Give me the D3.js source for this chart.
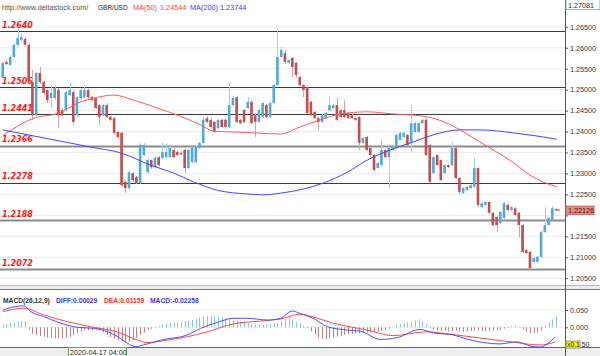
<!DOCTYPE html>
<html><head><meta charset="utf-8">
<script src="https://cdn.jsdelivr.net/npm/d3@7"></script>
<style>body{margin:0;background:#fff}svg{display:block}text{font-family:"Liberation Sans",Arial,sans-serif}</style>
</head><body>
<svg id="c" width="600" height="356"></svg>
<script>
// ---------- DATA ----------
const opens = [1.2528,1.2566,1.2559,1.2578,1.2607,1.2619,1.2621,1.2607,1.2518,1.2439,
1.2540,1.2518,1.2499,1.2480,1.2480,1.2499,1.2451,1.2451,1.2487,1.2494,
1.2439,1.2480,1.2482,1.2499,1.2482,1.2480,1.2463,1.2439,1.2463,1.2435,
1.2432,1.2399,1.2397,1.2280,1.2265,1.2301,1.2291,1.2277,1.2344,1.2303,
1.2332,1.2315,1.2339,1.2337,1.2339,1.2339,1.2356,1.2351,1.2349,1.2356,
1.2313,1.2327,1.2327,1.2361,1.2373,1.2432,1.2428,1.2423,1.2408,1.2428,
1.2428,1.2411,1.2463,1.2482,1.2428,1.2451,1.2456,1.2471,1.2439,1.2423,
1.2435,1.2463,1.2435,1.2468,1.2511,1.2578,1.2587,1.2564,1.2576,1.2564,
1.2530,1.2511,1.2506,1.2471,1.2447,1.2432,1.2423,1.2432,1.2451,1.2456,
1.2463,1.2451,1.2451,1.2444,1.2439,1.2432,1.2435,1.2373,1.2387,1.2361,
1.2344,1.2313,1.2320,1.2356,1.2339,1.2356,1.2361,1.2380,1.2387,1.2392,
1.2373,1.2399,1.2399,1.2420,1.2428,1.2368,1.2301,1.2344,1.2332,1.2301,
1.2320,1.2320,1.2361,1.2289,1.2253,1.2260,1.2265,1.2268,1.2313,1.2220,
1.2225,1.2232,1.2206,1.2196,1.2182,1.2194,1.2225,1.2213,1.2217,1.2206,
1.2177,1.2117,1.2113,1.2089,1.2089,1.2101,1.2160,1.2177,1.2189,1.2215];
const highs = [1.2566,1.2571,1.2583,1.2611,1.2647,1.2635,1.2626,1.2611,1.2547,1.2542,
1.2554,1.2521,1.2502,1.2511,1.2509,1.2504,1.2456,1.2497,1.2518,1.2499,
1.2485,1.2504,1.2509,1.2502,1.2485,1.2482,1.2466,1.2466,1.2468,1.2437,
1.2435,1.2401,1.2399,1.2284,1.2308,1.2303,1.2294,1.2373,1.2373,1.2337,
1.2334,1.2342,1.2342,1.2373,1.2373,1.2366,1.2361,1.2354,1.2354,1.2358,
1.2358,1.2363,1.2366,1.2375,1.2437,1.2437,1.2432,1.2425,1.2430,1.2430,
1.2432,1.2516,1.2485,1.2485,1.2430,1.2454,1.2482,1.2473,1.2444,1.2454,
1.2471,1.2466,1.2471,1.2513,1.2640,1.2602,1.2595,1.2573,1.2578,1.2566,
1.2533,1.2513,1.2509,1.2473,1.2449,1.2435,1.2442,1.2447,1.2482,1.2466,
1.2482,1.2454,1.2475,1.2447,1.2442,1.2435,1.2437,1.2387,1.2389,1.2363,
1.2346,1.2327,1.2380,1.2358,1.2363,1.2366,1.2394,1.2399,1.2399,1.2394,
1.2463,1.2423,1.2423,1.2430,1.2432,1.2370,1.2342,1.2346,1.2334,1.2322,
1.2322,1.2375,1.2363,1.2291,1.2268,1.2270,1.2275,1.2337,1.2315,1.2232,
1.2234,1.2234,1.2208,1.2199,1.2210,1.2232,1.2227,1.2222,1.2220,1.2208,
1.2180,1.2120,1.2115,1.2101,1.2103,1.2163,1.2220,1.2196,1.2222,1.2217];
const lows = [1.2523,1.2559,1.2556,1.2576,1.2602,1.2614,1.2602,1.2518,1.2428,1.2435,
1.2513,1.2487,1.2468,1.2456,1.2475,1.2408,1.2435,1.2447,1.2485,1.2416,
1.2435,1.2475,1.2480,1.2478,1.2473,1.2454,1.2416,1.2435,1.2432,1.2425,
1.2392,1.2382,1.2268,1.2253,1.2260,1.2280,1.2275,1.2275,1.2342,1.2299,
1.2311,1.2311,1.2318,1.2334,1.2337,1.2337,1.2337,1.2342,1.2344,1.2301,
1.2311,1.2325,1.2325,1.2358,1.2370,1.2420,1.2408,1.2397,1.2404,1.2408,
1.2406,1.2408,1.2461,1.2420,1.2418,1.2420,1.2454,1.2418,1.2387,1.2420,
1.2432,1.2432,1.2432,1.2466,1.2509,1.2576,1.2561,1.2561,1.2530,1.2528,
1.2509,1.2482,1.2442,1.2437,1.2430,1.2404,1.2420,1.2430,1.2449,1.2454,
1.2425,1.2432,1.2432,1.2430,1.2430,1.2425,1.2356,1.2370,1.2354,1.2342,
1.2306,1.2311,1.2318,1.2337,1.2265,1.2354,1.2358,1.2378,1.2385,1.2366,
1.2351,1.2397,1.2397,1.2418,1.2342,1.2277,1.2299,1.2318,1.2282,1.2299,
1.2313,1.2318,1.2287,1.2251,1.2251,1.2258,1.2263,1.2265,1.2220,1.2217,
1.2222,1.2203,1.2175,1.2160,1.2180,1.2191,1.2210,1.2210,1.2199,1.2148,
1.2110,1.2108,1.2070,1.2086,1.2086,1.2098,1.2158,1.2175,1.2187,1.2210];
const closes = [1.2564,1.2561,1.2578,1.2607,1.2623,1.2626,1.2607,1.2523,1.2439,1.2540,
1.2518,1.2492,1.2475,1.2492,1.2504,1.2439,1.2439,1.2494,1.2499,1.2423,
1.2482,1.2499,1.2499,1.2482,1.2475,1.2456,1.2435,1.2463,1.2435,1.2428,
1.2397,1.2387,1.2272,1.2265,1.2303,1.2284,1.2277,1.2368,1.2368,1.2332,
1.2315,1.2337,1.2320,1.2351,1.2351,1.2361,1.2339,1.2344,1.2346,1.2313,
1.2356,1.2361,1.2363,1.2373,1.2428,1.2423,1.2411,1.2399,1.2428,1.2411,
1.2411,1.2463,1.2480,1.2423,1.2420,1.2423,1.2471,1.2420,1.2423,1.2451,
1.2468,1.2435,1.2468,1.2511,1.2578,1.2595,1.2566,1.2571,1.2554,1.2535,
1.2511,1.2499,1.2444,1.2439,1.2432,1.2423,1.2439,1.2444,1.2463,1.2463,
1.2428,1.2435,1.2435,1.2432,1.2432,1.2428,1.2373,1.2385,1.2356,1.2344,
1.2308,1.2325,1.2356,1.2339,1.2361,1.2363,1.2392,1.2397,1.2397,1.2368,
1.2420,1.2420,1.2420,1.2428,1.2344,1.2280,1.2339,1.2320,1.2284,1.2320,
1.2315,1.2361,1.2289,1.2256,1.2265,1.2268,1.2272,1.2313,1.2225,1.2229,
1.2232,1.2206,1.2177,1.2177,1.2208,1.2229,1.2213,1.2220,1.2201,1.2177,
1.2113,1.2110,1.2074,1.2098,1.2101,1.2160,1.2177,1.2194,1.2217,1.2213];

// moving averages: candle position -> value
const ma50Pos = [0.3,8.4,15.1,20.2,25.6,29.9,35.3,41.7,47.1,53.3,56.8,62.1,67.5,74.8,80.1,85.5,90.9,98.2,105.1,113.2,119.7,123.2,128.5,133.1,137.4,142,145.5,149.2];
const ma50Val = [1.2392,1.2432,1.2444,1.2468,1.2482,1.2487,1.2475,1.2456,1.2439,1.2416,1.2401,1.2399,1.2397,1.2394,1.2411,1.2428,1.2442,1.2447,1.2442,1.2437,1.2420,1.2404,1.2375,1.2351,1.2327,1.2296,1.2280,1.2268];
const ma200Pos = [0,23.7,31.8,39.8,46,51.4,57.8,65.9,70.2,74.8,86.3,92.8,98.2,104.3,110.5,115.9,123.2,128.5,137.4,149.2];
const ma200Val = [1.2404,1.2363,1.2349,1.2320,1.2301,1.2280,1.2260,1.2251,1.2249,1.2253,1.2277,1.2303,1.2332,1.2356,1.2375,1.2392,1.2404,1.2404,1.2397,1.2382];

const levels = [1.2640,1.2506,1.2441,1.2366,1.2278,1.2188,1.2072];
const levelHeavy = [false,false,false,true,false,true,true];
const priceTicks = [1.265,1.260,1.255,1.250,1.245,1.240,1.235,1.230,1.225,1.220,1.215,1.210,1.205];
const hiddenTick = 1.220; // covered by the last-price tag in the reference
const topPrice = 1.27081, lastPrice = 1.22126;

// MACD panel (axis units)
const hist = [0.009,0.009,0.012,0.014,0.016,0.018,0.018,-0.006,-0.018,-0.022,
-0.025,-0.027,-0.029,-0.031,-0.032,-0.032,-0.032,-0.030,-0.027,-0.022,
-0.017,-0.013,-0.010,-0.008,-0.008,-0.007,-0.009,-0.015,-0.022,-0.028,
-0.033,-0.037,-0.040,-0.043,-0.041,-0.037,-0.030,-0.022,-0.015,-0.008,
-0.005,-0.003,0.004,0.007,0.010,0.012,0.014,0.015,0.016,0.018,
0.019,0.021,0.025,0.028,0.031,0.032,0.033,0.033,0.031,0.029,
0.026,0.024,0.021,0.019,0.017,0.015,0.013,0.010,0.008,0.007,
0.007,0.007,0.009,0.011,0.014,0.018,0.024,0.026,0.021,0.016,
0.012,0.005,-0.003,-0.012,-0.022,-0.030,-0.033,-0.034,-0.032,-0.029,
-0.027,-0.025,-0.022,-0.020,-0.019,-0.018,-0.017,-0.016,-0.015,-0.015,
-0.014,-0.013,-0.011,-0.008,-0.004,0.002,0.006,0.009,0.011,0.013,
0.016,0.020,0.023,0.019,0.009,-0.003,-0.006,-0.009,-0.010,-0.011,
-0.012,-0.011,-0.010,-0.012,-0.013,-0.012,-0.011,-0.010,-0.009,-0.011,
-0.012,-0.011,-0.010,-0.009,-0.008,-0.004,-0.002,0.003,0.005,-0.001,
-0.006,-0.013,-0.016,-0.017,-0.015,-0.010,0.006,0.015,0.023,0.031];
const diffPos = [0,2.2,5.7,7.6,11,15.6,20.2,24.5,28.3,31,33.6,35.8,38,42.5,49.8,53.3,57.8,62.1,65.9,71.3,74.8,78,80.1,83.6,87.4,92.8,96.3,101.6,106.2,112.4,115.9,121.3,125,133.9,138.5,142.8,144.7,148.7];
const diffVal = [0.050,0.057,0.062,0.045,0.031,0.012,0.000,-0.003,-0.013,-0.027,-0.046,-0.056,-0.051,-0.037,-0.022,-0.003,0.014,0.026,0.026,0.021,0.026,0.047,0.040,0.026,0.002,-0.008,-0.011,-0.035,-0.030,-0.006,-0.016,-0.022,-0.034,-0.048,-0.042,-0.056,-0.057,-0.029];
const deaPos = [0,5.7,11,17.5,24.5,31,35.3,39,44.4,49.8,55.1,62.1,69.4,74.8,80.1,83.6,89,98.2,105.1,114.3,120.5,129.3,137.4,144.7,148.7];
const deaVal = [0.045,0.055,0.036,0.016,0.000,-0.014,-0.033,-0.044,-0.037,-0.027,-0.013,0.010,0.018,0.024,0.038,0.030,0.012,-0.008,-0.024,-0.013,-0.020,-0.032,-0.043,-0.051,-0.043];
const macdTicks = [0.05,0,-0.05];

// ---------- CHART ----------
const svg = d3.select('#c');
const N = opens.length;
const x = d3.scaleBand().domain(d3.range(N)).range([0.85,557.8]).paddingInner(0.3).paddingOuter(0.15);
const cx = i => x(i) + x.bandwidth()/2;
const xi = d3.scaleLinear().domain([0,N-1]).range([cx(0),cx(N-1)]);
const y = d3.scaleLinear().domain([1.2640,1.2072]).range([31,269]);
const my = d3.scaleLinear().domain([-0.05,0.05]).range([344.6,310]);
const axisX = 565;

// price grid
svg.append('g').selectAll('line').data(priceTicks).join('line')
  .attr('x1',0).attr('x2',axisX).attr('y1',d=>y(d)).attr('y2',d=>y(d))
  .attr('stroke','#ececec').attr('stroke-width',1);

// key levels
svg.append('g').selectAll('line').data(levels).join('line')
  .attr('x1',0).attr('x2',axisX).attr('y1',d=>Math.round(y(d))+0.5).attr('y2',d=>Math.round(y(d))+0.5)
  .attr('stroke',(d,i)=>levelHeavy[i]?'#8c8c8c':'#3a3a3a')
  .attr('stroke-width',(d,i)=>levelHeavy[i]?2:1.2);
svg.append('g').selectAll('text').data(levels).join('text')
  .attr('x',2).attr('y',d=>y(d)-3.5)
  .style('font-family','"DejaVu Sans",sans-serif').style('font-size','8px')
  .style('font-weight','bold').style('font-style','italic')
  .attr('fill','#ff1a1a').text(d=>d.toFixed(4));

// candles
const up = i => closes[i] >= opens[i];
const cg = svg.append('g');
cg.selectAll('line').data(d3.range(N)).join('line')
  .attr('x1',i=>Math.round(cx(i))+0.5).attr('x2',i=>Math.round(cx(i))+0.5)
  .attr('y1',i=>y(highs[i])).attr('y2',i=>y(lows[i]))
  .attr('stroke',i=>up(i)?'#a3d0ec':'#dba2a2').attr('stroke-width',1);
cg.selectAll('rect').data(d3.range(N)).join('rect')
  .attr('x',i=>x(i)).attr('width',x.bandwidth())
  .attr('y',i=>y(Math.max(opens[i],closes[i])))
  .attr('height',i=>Math.max(1,Math.abs(y(opens[i])-y(closes[i]))))
  .attr('fill',i=>up(i)?'#52a9de':'#c24f4d');

// moving averages
const maLine = d3.line().x(d=>xi(d[0])).y(d=>y(d[1])).curve(d3.curveMonotoneX);
svg.append('path').attr('d',maLine(d3.zip(ma50Pos,ma50Val)))
  .attr('fill','none').attr('stroke','#ff5a5a').attr('stroke-width',1);
svg.append('path').attr('d',maLine(d3.zip(ma200Pos,ma200Val)))
  .attr('fill','none').attr('stroke','#4646ff').attr('stroke-width',1);

// header
const hdr = [
  {t:'http://www.deltastock.com/',x:2,c:'#555',s:7.3},
  {t:'GBR/USD',x:98,c:'#222',s:6.5},
  {t:'MA(50)',x:133,c:'#ff3a3a',s:7.3},
  {t:'1.24544',x:160,c:'#ff3a3a',s:7.3},
  {t:'MA(200)',x:190,c:'#3a3aff',s:7.3},
  {t:'1.23744',x:220,c:'#3a3aff',s:7.3}];
svg.append('g').selectAll('text').data(hdr).join('text')
  .attr('x',d=>d.x).attr('y',9.5).attr('fill',d=>d.c)
  .style('font-size',d=>d.s+'px').text(d=>d.t);

// panel separator & MACD panel background
svg.append('rect').attr('x',0).attr('y',285).attr('width',600).attr('height',4).attr('fill','#eeeeee');
svg.append('line').attr('x1',0).attr('x2',600).attr('y1',289.5).attr('y2',289.5).attr('stroke','#7a7a7a');
svg.append('line').attr('x1',0).attr('x2',600).attr('y1',285.5).attr('y2',285.5).attr('stroke','#bbbbbb');

// MACD grid
svg.append('g').selectAll('line').data([0.05,0]).join('line')
  .attr('x1',0).attr('x2',axisX).attr('y1',d=>my(d)).attr('y2',d=>my(d))
  .attr('stroke','#eeeeee');

// histogram
svg.append('g').selectAll('line').data(d3.range(N)).join('line')
  .attr('x1',i=>Math.round(cx(i))+0.5).attr('x2',i=>Math.round(cx(i))+0.5)
  .attr('y1',my(0)).attr('y2',i=>my(hist[i]))
  .attr('stroke',i=>hist[i]>=0?'#8cc4e6':'#c78080').attr('stroke-width',1);

svg.append('path').attr('d',d3.line().x(d=>xi(d[0])).y(d=>my(d[1])).curve(d3.curveMonotoneX)(d3.zip(deaPos,deaVal)))
  .attr('fill','none').attr('stroke','#ff4a4a').attr('stroke-width',1);
svg.append('path').attr('d',d3.line().x(d=>xi(d[0])).y(d=>my(d[1])).curve(d3.curveMonotoneX)(d3.zip(diffPos,diffVal)))
  .attr('fill','none').attr('stroke','#5050ff').attr('stroke-width',1);

// MACD title
const mt = [
  {t:'MACD(26,12,9)',x:3,c:'#333'},
  {t:'DIFF:0.00029',x:56,c:'#3a3aff'},
  {t:'DEA:0.01159',x:104,c:'#ff2a2a'},
  {t:'MACD:-0.02258',x:150,c:'#3a3aff'}];
svg.append('g').selectAll('text').data(mt).join('text')
  .attr('x',d=>d.x).attr('y',303).attr('fill',d=>d.c)
  .style('font-size','6.7px').style('font-weight','bold').text(d=>d.t);

// bottom strip
svg.append('rect').attr('x',0).attr('y',347).attr('width',600).attr('height',9).attr('fill','#eeeeee');
svg.append('line').attr('x1',0).attr('x2',600).attr('y1',347.5).attr('y2',347.5).attr('stroke','#666');
svg.append('rect').attr('x',68.5).attr('y',347.5).attr('width',58).attr('height',9).attr('fill','#ffffff').attr('stroke','#55aa55');
svg.append('text').attr('x',70).attr('y',355).attr('fill','#222').style('font-size','7.2px').text('2020-04-17 04:00');

// right axis area
svg.append('rect').attr('x',axisX).attr('y',0).attr('width',35).attr('height',285).attr('fill','#ffffff');
svg.append('line').attr('x1',axisX+0.5).attr('x2',axisX+0.5).attr('y1',0).attr('y2',356).attr('stroke','#555');

const pa = svg.append('g').attr('transform',`translate(${axisX},0)`)
  .call(d3.axisRight(y).tickValues(priceTicks).tickSize(3).tickPadding(2)
    .tickFormat(d=>Math.abs(d-hiddenTick)<1e-9 ? '' : d.toFixed(5)));
pa.select('.domain').remove();
pa.selectAll('text').style('font-size','7.2px').style('font-family','"Liberation Sans",Arial,sans-serif').attr('fill','#333344');
pa.selectAll('line').attr('stroke','#555');

// MACD axis: the lowest label is partly hidden by the yellow "x0.1" tag, only "50" shows
const ma = svg.append('g').attr('transform',`translate(${axisX},0)`)
  .call(d3.axisRight(my).tickValues(macdTicks).tickSize(3).tickPadding(2)
    .tickFormat(d=>d<0 ? '' : d.toFixed(3)));
ma.select('.domain').remove();
ma.selectAll('text').style('font-size','7.2px').style('font-family','"Liberation Sans",Arial,sans-serif').attr('fill','#333344');
ma.selectAll('line').attr('stroke','#555');

// top price box
svg.append('rect').attr('x',566).attr('y',-1).attr('width',34).attr('height',10.5).attr('fill','#fff').attr('stroke','#8cbf8c');
svg.append('text').attr('x',568).attr('y',7.5).attr('fill','#333').style('font-size','7.2px').text(topPrice.toFixed(5));

// last price box
svg.append('rect').attr('x',566).attr('y',y(lastPrice)-4).attr('width',28).attr('height',8.5).attr('fill','#e8898a').attr('stroke','#d06a6a');
svg.append('text').attr('x',568).attr('y',y(lastPrice)+3).attr('fill','#3a2020').style('font-size','7.2px').text(lastPrice.toFixed(5));

// last candle marker
svg.append('line').attr('x1',cx(N-1)).attr('x2',cx(N-1)+4).attr('y1',y(lastPrice)).attr('y2',y(lastPrice)).attr('stroke','#c24f4d');

// x0.1 scale tag in macd axis, followed by the visible tail "50" of -0.050
svg.append('rect').attr('x',566).attr('y',my(-0.05)-3.5).attr('width',14).attr('height',7).attr('fill','#f5f500').attr('stroke','#999');
svg.append('text').attr('x',567).attr('y',my(-0.05)+2.5).attr('fill','#222').style('font-size','6.8px').text('x0.1');
svg.append('text').attr('x',581.5).attr('y',my(-0.05)+2.5).attr('fill','#333344').style('font-size','7.2px').text('50');
</script>
</body></html>
